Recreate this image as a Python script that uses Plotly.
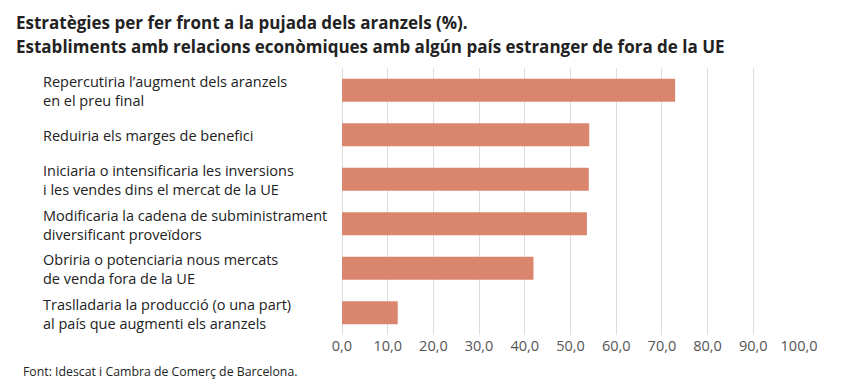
import plotly.graph_objects as go

categories = [
    "Repercutiria l’augment dels aranzels<br>en el preu final",
    "Reduiria els marges de benefici",
    "Iniciaria o intensificaria les inversions<br>i les vendes dins el mercat de la UE",
    "Modificaria la cadena de subministrament<br>diversificant proveïdors",
    "Obriria o potenciaria nous mercats<br>de venda fora de la UE",
    "Traslladaria la producció (o una part)<br>al país que augmenti els aranzels",
]
values = [72.9, 54.1, 54.0, 53.6, 41.9, 12.2]
tick_vals = [0, 10, 20, 30, 40, 50, 60, 70, 80, 90, 100]
tick_text = ["0,0", "10,0", "20,0", "30,0", "40,0", "50,0", "60,0", "70,0", "80,0", "90,0", "100,0"]

title_lines = [
    "Estratègies per fer front a la pujada dels aranzels (%).",
    "Establiments amb relacions econòmiques amb algún país estranger de fora de la UE",
]
source = "Font: Idescat i Cambra de Comerç de Barcelona."

# page offset (default body margin)
OFF = 8
W, H = 850, 390
L = 342 - OFF
R = W - (799 - OFF)
T = 68 - OFF
B = H - (335 - OFF)
pw = W - L - R
ph = H - T - B


def px_x(page_x):
    return (page_x - OFF - L) / pw


def px_y(page_y):
    return 1 - (page_y - OFF - T) / ph


ypos = list(range(len(categories)))

fig = go.Figure()
fig.add_trace(go.Bar(
    x=values, y=ypos, orientation="h",
    marker=dict(color="#DA866E", line=dict(width=0)),
    width=0.52, hoverinfo="x",
))

annotations = []
for yi, lab in zip(ypos, categories):
    annotations.append(dict(
        x=px_x(41), xref="paper", y=yi, yref="y", yshift=-1,
        text=lab, showarrow=False,
        xanchor="left", yanchor="middle", align="left",
        font=dict(family="Open Sans", size=14.5, color="#222222"),
    ))

for i, t in enumerate(title_lines):
    annotations.append(dict(
        x=px_x(14), xref="paper", y=px_y(22 + 24 * i), yref="paper",
        text="<b>" + t + "</b>", showarrow=False, xanchor="left", yanchor="middle",
        font=dict(family="Open Sans", size=17, color="#222222"),
    ))

annotations.append(dict(
    x=px_x(21), xref="paper", y=px_y(371), yref="paper",
    text=source, showarrow=False, xanchor="left", yanchor="middle",
    font=dict(family="Open Sans", size=12.3, color="#222222"),
))

fig.update_layout(
    width=W, height=H,
    margin=dict(l=L, r=R, t=T, b=B),
    plot_bgcolor="white", paper_bgcolor="white",
    showlegend=False,
    annotations=annotations,
    xaxis=dict(
        range=[0, 100], tickvals=tick_vals, ticktext=tick_text,
        showgrid=True, gridcolor="#DDDDDD", gridwidth=1,
        zeroline=True, zerolinecolor="#DDDDDD", zerolinewidth=1,
        showline=False, ticks="",
        tickfont=dict(family="Open Sans", size=14.5, color="#555555"),
        fixedrange=True,
    ),
    yaxis=dict(
        range=[len(categories) - 0.5, -0.5], showticklabels=False,
        showgrid=False, zeroline=False, showline=False, ticks="",
        fixedrange=True,
    ),
)

fig.write_html("out.html")
